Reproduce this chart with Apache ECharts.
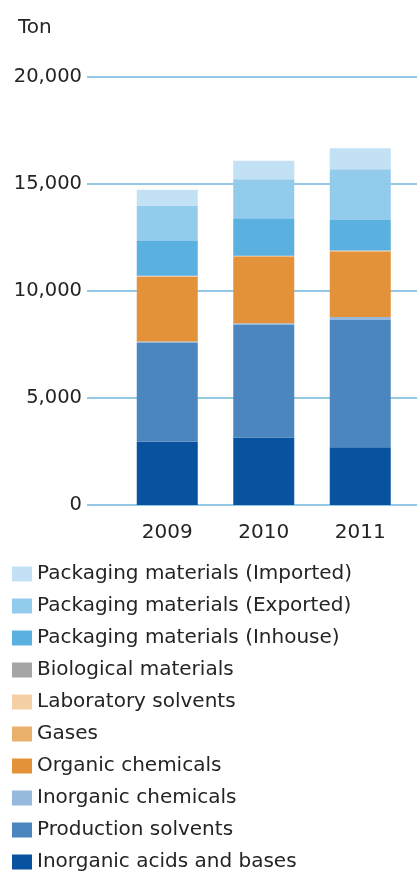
<!DOCTYPE html>
<html>
<head>
<meta charset="utf-8">
<script src="https://cdn.jsdelivr.net/npm/echarts@6/dist/echarts.min.js"></script>
<style>html,body{margin:0;padding:0;background:#fff}#c{width:417px;height:873px}</style>
</head>
<body>
<div id="c"></div>
<script>
const years = ['2009', '2010', '2011'];
const yTicks = [0, 5000, 10000, 15000, 20000];
const inorganicAcids = [2950, 3160, 2700];
const productionSolvents = [4620, 5250, 5950];
const inorganicChemicals = [70, 80, 140];
const organicChemicals = [3030, 3120, 3060];
const gases = [20, 20, 20];
const labSolvents = [10, 10, 10];
const biological = [10, 10, 10];
const packInhouse = [1630, 1750, 1430];
const packExported = [1640, 1820, 2370];
const packImported = [750, 870, 980];

const seriesDefs = [
  ['Inorganic acids and bases', inorganicAcids, '#0852a0'],
  ['Production solvents', productionSolvents, '#4b86bf'],
  ['Inorganic chemicals', inorganicChemicals, '#96b9dd'],
  ['Organic chemicals', organicChemicals, '#e3923a'],
  ['Gases', gases, '#ebb06b'],
  ['Laboratory solvents', labSolvents, '#f5cfa5'],
  ['Biological materials', biological, '#a5a5a5'],
  ['Packaging materials (Inhouse)', packInhouse, '#5ab1e0'],
  ['Packaging materials (Exported)', packExported, '#92cbec'],
  ['Packaging materials (Imported)', packImported, '#c3e1f4']
];

const FONT = 'DejaVu Sans';
const TXT = '#242424';
const chart = echarts.init(document.getElementById('c'), null, {renderer: 'canvas'});
chart.setOption({
  animation: false,
  title: {text: 'Ton', left: 13, top: 13, textStyle: {fontFamily: FONT, fontSize: 20, fontWeight: 'normal', color: TXT}},
  grid: [
    {left: 87, right: 0, top: 77, bottom: 368},
    {left: 119, right: 8.5, top: 77, bottom: 368}
  ],
  xAxis: [
    {gridIndex: 0, type: 'category', data: years, show: false},
    {gridIndex: 1, type: 'category', data: years,
     axisLine: {show: false}, axisTick: {show: false},
     axisLabel: {fontFamily: FONT, fontSize: 20, color: TXT, margin: 18}}
  ],
  yAxis: [
    {gridIndex: 0, type: 'value', min: yTicks[0], max: yTicks[yTicks.length - 1], interval: yTicks[1] - yTicks[0],
     axisLine: {show: false}, axisTick: {show: false},
     axisLabel: {fontFamily: FONT, fontSize: 19.5, color: TXT, margin: 5,
       formatter: v => v.toLocaleString('en-US')},
     splitLine: {lineStyle: {color: '#71b7e1', width: 1.5}}},
    {gridIndex: 1, type: 'value', min: yTicks[0], max: yTicks[yTicks.length - 1], show: false, splitLine: {show: false}}
  ],
  legend: {
    orient: 'vertical', left: 12, top: 564, padding: 0,
    itemWidth: 20, itemHeight: 15, itemGap: 12, icon: 'rect',
    data: seriesDefs.map(s => s[0]).reverse(),
    textStyle: {fontFamily: FONT, fontSize: 20, color: TXT}
  },
  series: seriesDefs.map(([name, data, color]) => ({
    name, type: 'bar', stack: 'total', data, xAxisIndex: 1, yAxisIndex: 1,
    barWidth: 61, itemStyle: {color}
  }))
});
</script>
</body>
</html>
